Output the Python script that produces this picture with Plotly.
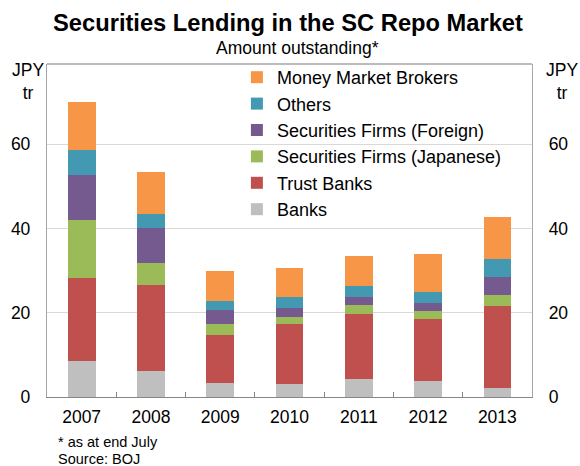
import plotly.graph_objects as go

# Securities lending in the SC repo market, amount outstanding (JPY trillion)
years = ["2007", "2008", "2009", "2010", "2011", "2012", "2013"]

banks = [8.5, 6.1, 3.3, 3.0, 4.3, 3.8, 2.2]
trust_banks = [19.8, 20.4, 11.4, 14.3, 15.3, 14.7, 19.5]
sec_japanese = [13.7, 5.3, 2.6, 1.7, 2.2, 1.9, 2.5]
sec_foreign = [10.7, 8.2, 3.3, 2.1, 2.0, 1.8, 4.2]
others = [5.8, 3.4, 2.2, 2.6, 2.5, 2.7, 4.3]
money_brokers = [11.5, 10.0, 7.0, 6.8, 7.1, 9.0, 10.0]

y_ticks = [0, 20, 40, 60]

series = [
    ("Banks", banks, "#BFBFBF"),
    ("Trust Banks", trust_banks, "#C0504D"),
    ("Securities Firms (Japanese)", sec_japanese, "#9BBB59"),
    ("Securities Firms (Foreign)", sec_foreign, "#755A8F"),
    ("Others", others, "#4399B1"),
    ("Money Market Brokers", money_brokers, "#F79646"),
]

FONT = "Liberation Sans, Arial, sans-serif"

fig = go.Figure()
for name, vals, color in series:
    fig.add_trace(go.Bar(
        x=years, y=vals, name=name, width=0.4,
        marker=dict(color=color, line=dict(width=0)),
    ))

# mirror axis on the right so tick labels appear on both sides
fig.add_trace(go.Scatter(x=years, y=banks, yaxis="y2", mode="none",
                         showlegend=False, hoverinfo="skip"))

W, H = 580, 466
L, R, T, B = 47.3, 48.2, 64, 69.3
pw, ph = W - L - R, H - T - B


def px_x(p):
    return (p - L) / pw


def px_y(p):
    return (H - B - p) / ph


yr = [0, 79]
fig.update_layout(
    width=W, height=H,
    margin=dict(l=L, r=R, t=T, b=B),
    paper_bgcolor="white", plot_bgcolor="white",
    barmode="stack",
    font=dict(family=FONT, color="#000000", size=17),
    title=dict(text="<b>Securities Lending in the SC Repo Market</b>",
               x=288 / W, xanchor="center", y=1 - 23 / H, yanchor="middle",
               yref="container", font=dict(size=23.7, family=FONT)),
    showlegend=True,
    legend=dict(traceorder="reversed",
                x=px_x(237), xanchor="left", y=px_y(59), yanchor="top",
                font=dict(size=18, family=FONT), bgcolor="rgba(0,0,0,0)",
                itemclick=False),
    xaxis=dict(showline=True, linecolor="#868686", linewidth=1.3,
               ticks="inside", ticklen=5, tickcolor="#868686",
               tickson="boundaries", showgrid=False,
               tickfont=dict(size=17.5), ticklabelstandoff=4),
    yaxis=dict(range=yr, tickvals=y_ticks, showgrid=True,
               gridcolor="#D9D9D9", gridwidth=1.2, zeroline=False,
               showline=True, linecolor="#A6A6A6", linewidth=1.3,
               ticks="", ticklabelstandoff=12, tickfont=dict(size=17.5)),
    yaxis2=dict(range=yr, tickvals=y_ticks, overlaying="y", side="right",
                showgrid=False, zeroline=False, showline=True,
                linecolor="#A6A6A6", linewidth=1.3, ticks="",
                ticklabelstandoff=12, tickfont=dict(size=17.5)),
    shapes=[dict(type="line", xref="paper", yref="paper", x0=0, x1=1,
                 y0=1, y1=1, line=dict(color="#A6A6A6", width=1.3))],
    annotations=[
        dict(text="Amount outstanding*", x=px_x(298), y=px_y(48),
             xref="paper", yref="paper", xanchor="center", yanchor="middle",
             showarrow=False, font=dict(size=17.5)),
        dict(text="JPY<br>tr", x=px_x(28), y=px_y(81), xref="paper",
             yref="paper", xanchor="center", yanchor="middle",
             showarrow=False, font=dict(size=17.5)),
        dict(text="JPY<br>tr", x=px_x(562), y=px_y(81), xref="paper",
             yref="paper", xanchor="center", yanchor="middle",
             showarrow=False, font=dict(size=17.5)),
        dict(text="* as at end July", x=px_x(56), y=px_y(442),
             xref="paper", yref="paper", xanchor="left", yanchor="middle",
             showarrow=False, font=dict(size=14.5)),
        dict(text="Source: BOJ", x=px_x(56), y=px_y(459),
             xref="paper", yref="paper", xanchor="left", yanchor="middle",
             showarrow=False, font=dict(size=14.5)),
    ],
)

fig.write_html("out.html")
